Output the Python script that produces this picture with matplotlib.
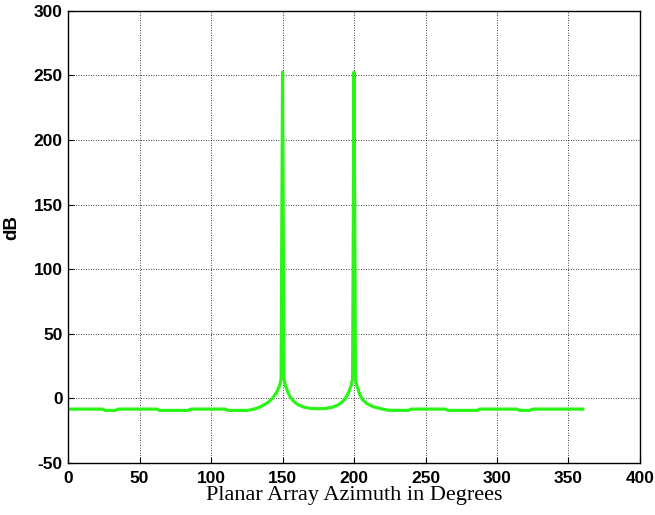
import matplotlib
matplotlib.use("Agg")
import matplotlib.pyplot as plt

plt.rcParams["axes.unicode_minus"] = False

# Polyline vertices (azimuth in degrees, level in dB)
azimuth = [0, 24, 26, 33, 35, 62, 64, 84, 86, 110, 112, 125,
           128, 131, 134, 137, 140, 142, 144, 146, 148, 149, 150,
           151, 152, 154, 156, 158, 161, 165, 170, 175, 180,
           185, 189, 192, 194, 196, 198, 199, 200,
           201, 202, 204, 206, 209, 213, 218, 224, 238, 240,
           264, 266, 286, 288, 314, 316, 323, 325, 360]
gain_db = [-8.3, -8.3, -9.3, -9.3, -8.3, -8.3, -9.3, -9.3, -8.3, -8.3, -9.3, -9.3,
           -8.8, -8.0, -6.8, -5.0, -3.0, -1.0, 1.5, 5.0, 10.0, 15.0, 252.5,
           15.0, 10.0, 4.0, 0.0, -2.5, -5.0, -6.8, -7.8, -8.0, -7.8,
           -6.8, -5.0, -2.5, 0.0, 4.0, 10.0, 15.0, 252.5,
           15.0, 10.0, 3.0, -1.0, -4.0, -6.3, -7.8, -9.2, -9.3, -8.3,
           -8.3, -9.3, -9.3, -8.3, -8.3, -9.3, -9.3, -8.3, -8.3]

x_ticks = [0, 50, 100, 150, 200, 250, 300, 350, 400]
y_ticks = [-50, 0, 50, 100, 150, 200, 250, 300]

fig = plt.figure(figsize=(6.55, 5.15), dpi=100)
ax = fig.add_axes([0.104, 0.101, 0.873, 0.878])

ax.plot(azimuth, gain_db, color="#2bf516", linewidth=2.3)

ax.set_xlim(0, 400)
ax.set_ylim(-50, 300)
ax.set_xticks(x_ticks)
ax.set_yticks(y_ticks)
ax.grid(True, color="black", linestyle=(0, (1, 2)), linewidth=0.6)
ax.tick_params(direction="in", length=4, width=0.8)
ax.tick_params(axis="x", pad=6)
ax.tick_params(axis="y", pad=4)
for lab in ax.get_xticklabels() + ax.get_yticklabels():
    lab.set_fontfamily("Liberation Sans")
    lab.set_fontweight("bold")
    lab.set_fontsize(12.5)
for sp in ax.spines.values():
    sp.set_linewidth(1.0)

ax.set_xlabel("Planar Array Azimuth in Degrees", family="Liberation Serif",
              fontsize=16, labelpad=0)
ax.set_ylabel("dB", family="Liberation Sans", fontweight="bold", fontsize=13.5)
ax.yaxis.set_label_coords(-0.084, 0.52)

fig.savefig("out.png", dpi=100)
